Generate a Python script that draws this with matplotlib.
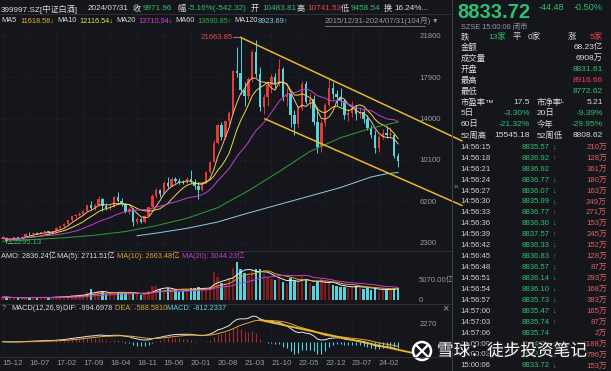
import matplotlib
matplotlib.use("Agg")
import matplotlib.pyplot as plt
import matplotlib.patheffects as pe
from matplotlib.lines import Line2D
from matplotlib.patches import Ellipse
import numpy as np
import pandas as pd

plt.rcParams['font.family'] = ['Liberation Sans', 'Noto Sans CJK SC', 'DejaVu Sans']

# ---- monthly bars, 2015-12 .. 2024-07 (104 months) ----
opens = [2650, 2780, 2500, 2560, 2800, 2720, 2880, 3150, 3080, 3200,
         3120, 3300, 3380, 3230, 3400, 3700, 3850, 4100, 4400, 4800,
         4900, 5050, 5300, 5850, 5600, 5900, 6450, 5750, 5600, 5700,
         6600, 6250, 5950, 5200, 5500, 4250, 4500, 4250, 4850, 5650,
         6700, 7250, 6900, 7950, 7650, 8300, 8150, 8000, 7950, 8300,
         8000, 7600, 7250, 7950, 8950, 9950, 11750, 13400, 12250, 13800,
         14550, 18450, 18350, 16700, 16100, 17700, 20300, 18200, 15100, 16000,
         17200, 17900, 17300, 18700, 16000, 16300, 14300, 13500, 15000, 17300,
         15600, 15900, 13700, 11300, 13600, 15300, 16900, 16300, 16000, 15700,
         14300, 14500, 15000, 14400, 14653.4, 14000, 13100, 12500, 11200, 12272.46,
         12620, 12486.7, 12500, 10483.81]
highs = [2900, 2800, 2620, 2850, 2870, 2900, 3250, 3300, 3250, 3260,
         3350, 3420, 3420, 3420, 3750, 3900, 4150, 4450, 4850, 5000,
         5150, 5400, 5900, 6250, 5950, 6700, 6550, 6000, 5900, 6700,
         7050, 6500, 6050, 5700, 5550, 4700, 4600, 4950, 5700, 6900,
         7500, 7400, 8100, 8450, 8450, 8500, 8400, 8250, 8450, 9150,
         8350, 8000, 8050, 9050, 10050, 12000, 13500, 13700, 13900, 14700,
         18600, 20800, 21663.85, 17500, 17900, 20500, 21450, 18900, 16300, 17600,
         18200, 18300, 19600, 18900, 16900, 16500, 14800, 15200, 17600, 17600,
         16400, 16200, 15100, 13900, 15500, 17800, 17500, 16700, 16900, 15900,
         14900, 15700, 15300, 15100, 14900, 14300, 13400, 12900, 12500, 13000,
         13300, 13200, 12600, 10741.53]
lows = [2600, 2295.13, 2350, 2520, 2650, 2620, 2850, 3000, 3050, 3080,
        3100, 3200, 3150, 3200, 3380, 3620, 3800, 4050, 4350, 4600,
        4800, 4950, 5250, 5350, 5350, 5800, 5300, 5350, 5350, 5650,
        6150, 5750, 5100, 5050, 3850, 4100, 4150, 4150, 4800, 5600,
        6500, 6650, 6850, 7500, 7550, 7900, 7850, 7800, 7900, 7900,
        7350, 6400, 7200, 7900, 8850, 9900, 11600, 12000, 12100, 13400,
        14400, 17900, 16300, 15200, 15900, 17500, 17900, 14700, 14400, 15200,
        16400, 16900, 17100, 15700, 15200, 13200, 12500, 13200, 14800, 15400,
        15000, 13400, 10800, 10900, 13300, 15100, 15900, 15300, 15200, 14000,
        13800, 14200, 13900, 14100, 13600, 12900, 12200, 10800, 10900, 12100,
        12200, 12300, 10300, 9458.54]
closes = [2780, 2500, 2560, 2800, 2720, 2880, 3150, 3080, 3200, 3120,
          3300, 3380, 3230, 3400, 3700, 3850, 4100, 4400, 4800, 4900,
          5050, 5300, 5850, 5600, 5900, 6450, 5750, 5600, 5700, 6600,
          6250, 5950, 5200, 5500, 4250, 4500, 4250, 4850, 5650, 6700,
          7250, 6900, 7950, 7650, 8300, 8150, 8000, 7950, 8300, 8000,
          7600, 7250, 7950, 8950, 9950, 11750, 13400, 12250, 13800, 14550,
          18450, 18350, 16700, 16100, 17700, 20300, 18200, 15100, 16000, 17200,
          17900, 17300, 18700, 16000, 16300, 14300, 13500, 15000, 17300, 15600,
          15900, 13700, 11300, 13600, 15300, 16900, 16300, 16000, 15700, 14300,
          14500, 15000, 14400, 14653.4, 14000, 13100, 12500, 11200, 12272.46, 12620,
          12486.7, 12500, 10514.28, 9971.96]
# turnover (亿)
amo = [650, 720, 480, 560, 500, 520, 700, 650, 600, 520,
       600, 700, 650, 620, 800, 780, 850, 950, 1200, 1100,
       1250, 1300, 1900, 2700, 1600, 2200, 1900, 1500, 1400, 1900,
       2000, 1600, 1700, 1500, 2000, 1400, 1100, 1500, 2200, 3300,
       3500, 2700, 2500, 2800, 2600, 2300, 2200, 2200, 2400, 3000,
       2900, 3100, 2500, 2700, 3200, 6800, 5600, 4200, 4000, 5000,
       7800, 9300, 7500, 6600, 5800, 7200, 7400, 7500, 6200, 5500,
       5000, 4800, 5600, 4300, 3800, 5400, 4600, 4400, 5700, 4900,
       4200, 3400, 4700, 5200, 3800, 4200, 3700, 3300, 3100, 3200,
       3000, 3400, 3300, 3249.8, 2700, 2900, 2500, 2977.2, 2000, 2600,
       2500, 2750, 2871.36, 2836.24]

# long averages (need history before the window)
ma60_month = [0, 8, 16, 24, 32, 40, 48, 56, 64, 72, 80, 88, 96, 103]
ma60_value = [2420, 2600, 2760, 3000, 3350, 3900, 4600, 5600, 7200, 9000,
              10900, 12200, 13100, 13690.85]
ma120_month = [35, 40, 48, 56, 64, 72, 80, 88, 96, 100, 103]
ma120_value = [2950, 3200, 3650, 4250, 5100, 5900, 6700, 7500, 8500, 8800, 8923.69]

# hand-drawn channel lines
trend_upper_month = [62, 119.6]
trend_upper_price = [21663.85, 11909]
trend_lower_month = [68.3, 119.6]
trend_lower_price = [13981, 5814]
macd_trend_month = [67, 106.9]
macd_trend_value = [2650, -1380]

xtick_labels = ['15-12', '16-07', '17-02', '17-09', '18-04', '18-11', '19-06', '20-01',
                '20-08', '21-03', '21-10', '22-05', '22-12', '23-07', '24-02']
price_ticks = [2300, 6200, 10100, 14000, 17900, 21800]

tick_time = ['14:56:15', '14:56:18', '14:56:21', '14:56:24', '14:56:27', '14:56:30',
             '14:56:33', '14:56:36', '14:56:39', '14:56:42', '14:56:45', '14:56:48',
             '14:56:51', '14:56:54', '14:56:57', '14:57:00', '14:57:03', '14:57:06',
             '15:00:00', '15:00:03', '15:00:06']
tick_price = ['8835.57', '8836.92', '8836.92', '8836.77', '8836.07', '8835.99',
              '8836.77', '8836.30', '8837.57', '8836.33', '8836.83', '8836.57',
              '8836.14', '8836.10', '8835.73', '8835.47', '8835.74', '8835.74',
              '8834.20', '8833.95', '8833.72']
tick_dir = ['↓', '↑', '', '↓', '↓', '↓', '↑', '↓', '↑', '↓', '↑', '↓',
            '↓', '↓', '↓', '↓', '↑', '', '↓', '↓', '↓']
tick_vol = ['210万', '128万', '361万', '180万', '163万', '249万', '271万', '153万',
            '245万', '152万', '128万', '87万', '293万', '168万', '393万', '165万',
            '87万', '2万', '1188万', '796万', '153万']

# ---- colours ----
BG = '#14161b'
WHITE = '#dcdcdc'
GRAY = '#9a9a9a'
GREEN = '#2fbf6f'
RED = '#e8454a'
CANDLE_UP = '#e53935'
CANDLE_DN = '#56d4dc'
VOL_UP = '#7a1e1e'
GRID = '#2a2e35'
SEP = '#33363d'

W, H = 611, 371
fig = plt.figure(figsize=(W / 100, H / 100), dpi=100, facecolor=BG)


def px_axes(x0, y0, x1, y1):
    ax = fig.add_axes([x0 / W, 1 - y1 / H, (x1 - x0) / W, (y1 - y0) / H])
    ax.set_facecolor(BG)
    for s in ax.spines.values():
        s.set_visible(False)
    return ax


def ftext(x, y, s, color=WHITE, size=6.0, ha='left', va='center', **kw):
    return fig.text(x / W, 1 - y / H, s, color=color, fontsize=size, ha=ha, va=va, **kw)


def hline(y, x0, x1, color=SEP, lw=0.6):
    fig.add_artist(Line2D([x0 / W, x1 / W], [1 - y / H, 1 - y / H], color=color, lw=lw))


def vline(x, y0, y1, color=SEP, lw=0.6):
    fig.add_artist(Line2D([x / W, x / W], [1 - y0 / H, 1 - y1 / H], color=color, lw=lw))


o = np.array(opens, float)
h = np.array(highs, float)
l = np.array(lows, float)
c = np.array(closes, float)
v = np.array(amo, float)
n = len(c)
x = np.arange(n)
up = c >= o
XLIM = (-0.68, 107.4)
xpos = np.arange(0, n, 7)

# ---- price panel ----
ax = px_axes(0, 28, 415, 248)
ax.set_xlim(*XLIM)
ax.set_ylim(1796, 22554)
for p in price_ticks:
    ax.axhline(p, color=GRID, lw=0.5, ls=(0, (1, 2)), zorder=0)
for xp in xpos:
    ax.axvline(xp, color=GRID, lw=0.5, ls=(0, (1, 2)), zorder=0)

ccol = np.where(up, CANDLE_UP, CANDLE_DN)
ax.vlines(x, l, h, colors=ccol, lw=0.7, zorder=3)
body = np.maximum(np.abs(c - o), 60)
ax.bar(x, body, bottom=np.minimum(o, c), width=0.62, color=ccol, lw=0, zorder=4)

cs = pd.Series(c)
ax.plot(x, cs.rolling(5, min_periods=1).mean(), color='#f0c080', lw=0.7, zorder=5)
ax.plot(x, cs.rolling(10, min_periods=1).mean(), color='#e8d84a', lw=0.7, zorder=5)
ax.plot(x, cs.rolling(20, min_periods=1).mean(), color='#c43fd0', lw=0.7, zorder=5)
ax.plot(ma60_month, ma60_value, color='#2f9e3a', lw=0.7, zorder=5)
ax.plot(ma120_month, ma120_value, color='#8fd0e0', lw=0.7, zorder=5)

ax.plot(trend_upper_month, trend_upper_price, color='#e9b82a', lw=1.1, clip_on=False, zorder=6)
ax.plot(trend_lower_month, trend_lower_price, color='#e9b82a', lw=1.1, clip_on=False, zorder=6)

imax = int(np.argmax(h))
ax.plot([imax - 1.9, imax], [h[imax], h[imax]], color=GRAY, lw=0.6)
ax.plot([imax, imax], [h[imax], h[imax] - 250], color=GRAY, lw=0.6)
ax.text(imax - 2.0, h[imax], f'{h[imax]:.2f}', color=RED, fontsize=5.6, ha='right', va='center')
imin = int(np.argmin(l))
ax.plot([imin + 0.3, imin + 1.7], [l[imin], l[imin]], color=GRAY, lw=0.6)
ax.text(imin + 1.8, l[imin], f'{l[imin]:.2f}', color=GREEN, fontsize=5.6, ha='left', va='center')

ax.yaxis.tick_right()
ax.set_yticks(price_ticks)
ax.set_yticklabels([str(p) for p in price_ticks])
ax.tick_params(axis='y', length=0, pad=3, labelsize=5.6, labelcolor=GRAY)
ax.set_xticks(xpos)
ax.set_xticklabels([])
ax.tick_params(axis='x', length=0)

# ---- turnover panel ----
axv = px_axes(0, 260, 415, 301)
axv.set_xlim(*XLIM)
axv.set_ylim(-250, 9700)
for xp in xpos:
    axv.axvline(xp, color=GRID, lw=0.5, ls=(0, (1, 2)), zorder=0)
axv.bar(x, v, width=0.62, color=np.where(up, VOL_UP, CANDLE_DN), lw=0, zorder=3)
vs = pd.Series(v)
axv.plot(x, vs.rolling(5, min_periods=1).mean(), color='#eeeeee', lw=0.7, zorder=4)
axv.plot(x, vs.rolling(10, min_periods=1).mean(), color='#e8a030', lw=0.7, zorder=4)
axv.plot(x, vs.rolling(20, min_periods=1).mean(), color='#c43fd0', lw=0.7, zorder=4)
axv.yaxis.tick_right()
axv.set_yticks([0, 5070])
axv.set_yticklabels(['0', '5070.00亿'])
axv.tick_params(axis='y', length=0, pad=3, labelsize=5.6, labelcolor=GRAY)
axv.set_xticks(xpos)
axv.set_xticklabels([])
axv.tick_params(axis='x', length=0)

# ---- MACD panel ----
ema12 = cs.ewm(span=12, adjust=False).mean()
ema26 = cs.ewm(span=26, adjust=False).mean()
dif = ema12 - ema26
dea = dif.ewm(span=9, adjust=False).mean()
hist = 2 * (dif - dea)

axm = px_axes(0, 314, 415, 357)
axm.set_xlim(*XLIM)
axm.set_ylim(-1870, 3380)
for xp in xpos:
    axm.axvline(xp, color=GRID, lw=0.5, ls=(0, (1, 2)), zorder=0)
axm.vlines(x, 0, hist, colors=np.where(hist >= 0, '#a82a2a', CANDLE_DN), lw=0.8, zorder=3)
axm.plot(x, dif, color='#e6e6e6', lw=0.7, zorder=4)
axm.plot(x, dea, color='#e0a838', lw=0.7, zorder=4)
axm.plot(macd_trend_month, macd_trend_value, color='#e9b82a', lw=1.3, clip_on=False, zorder=5)
axm.yaxis.tick_right()
axm.set_yticks([2270])
axm.set_yticklabels(['2270'])
axm.tick_params(axis='y', length=0, pad=3, labelsize=5.6, labelcolor=GRAY)
axm.set_xticks(xpos)
axm.set_xticklabels(xtick_labels, ha='left')
axm.tick_params(axis='x', length=0, pad=2, labelsize=5.8, labelcolor=GRAY)

# ---- separators ----
hline(14, 0, 452)
hline(251, 0, 452)
hline(304, 0, 452)
hline(357, 0, 452)
vline(452, 0, 371, color='#3a3d44', lw=0.8)

# ---- header rows ----
f1 = 5.9
ftext(1, 9, '399997.SZ[中证白酒]', WHITE, f1)
ftext(88, 9, '2024/07/31', WHITE, f1)
ftext(133, 9, '收', WHITE, f1)
ftext(143, 9, '9971.96', GREEN, f1)
ftext(177, 9, '幅', WHITE, f1)
ftext(188, 9, '-5.16%(-542.32)', GREEN, f1)
ftext(251, 9, '开', WHITE, f1)
ftext(262, 9, '10483.81', GREEN, f1)
ftext(297, 9, '高', WHITE, f1)
ftext(307, 9, '10741.53', RED, f1)
ftext(341, 9, '低', WHITE, f1)
ftext(351, 9, '9458.54', GREEN, f1)
ftext(384, 9, '换', WHITE, f1)
ftext(394, 9, '16.24%...', WHITE, f1)

f2 = 5.3
ftext(1, 21, 'MA5', WHITE, f2)
ftext(20, 21, '11618.58↓', '#e8a838', f2)
ftext(57, 21, 'MA10', WHITE, f2)
ftext(79, 21, '12116.54↓', '#e8e04a', f2)
ftext(116, 21, 'MA20', WHITE, f2)
ftext(138, 21, '13710.94↓', '#d040d8', f2)
ftext(175, 21, 'MA60', WHITE, f2)
ftext(197, 21, '13690.85↑', '#30b040', f2)
ftext(234, 21, 'MA120', WHITE, f2)
ftext(258, 21, '8923.69↑', '#80d0e8', f2)
ftext(325, 21, '2015/12/31-2024/07/31(104月)', GRAY, 5.6)
hline(25.5, 325, 425, color=GRAY, lw=0.5)
ftext(432, 21, '▼', GRAY, 4.8)

# ---- indicator legends ----
f3 = 5.3
ftext(1, 256, 'AMO: 2836.24亿', WHITE, f3)
ftext(57, 256, 'MA(5): 2711.51亿', WHITE, f3)
ftext(117, 256, 'MA(10): 2663.48亿', '#e8a030', f3)
ftext(182, 256, 'MA(20): 3044.23亿', '#c43fd0', f3)
ftext(2, 309, '?', GRAY, f3)
ftext(11, 309, 'MACD(12,26,9)', WHITE, f3)
ftext(63, 309, 'DIF: -994.6978', WHITE, f3)
ftext(115, 309, 'DEA: -588.5810', '#e0a838', f3)
ftext(167, 309, 'MACD: -812.2337', CANDLE_DN, f3)
ftext(445, 308, '×', GRAY, 8, ha='center')
ftext(456, 188, '»', GRAY, 6, ha='center')

# ---- quote panel ----
fs = 6.0
ftext(457, 13, '8833.72', GREEN, 14.5, weight='bold')
ftext(539, 8, '-44.48', GREEN, 6.6)
ftext(603, 8, '-0.50%', GREEN, 6.6, ha='right')
ftext(461, 27, 'SZSE 15:00:06 闭市', GRAY, 5.3)
ftext(461, 37, '跌', WHITE, fs)
ftext(488, 37, '13家', GREEN, fs)
ftext(513, 37, '平', WHITE, fs)
ftext(541, 37, '0家', WHITE, fs, ha='right')
ftext(568, 37, '涨', WHITE, fs)
ftext(603, 37, '5家', RED, fs, ha='right')

quote_rows = [('金额', '68.23亿', WHITE), ('成交量', '6908万', WHITE),
              ('开盘', '8831.61', GREEN), ('最高', '8916.66', RED),
              ('最低', '8772.62', GREEN)]
for k, (lab, val, col) in enumerate(quote_rows):
    yy = 47.5 + 11 * k
    ftext(461, yy, lab, WHITE, fs)
    ftext(603, yy, val, col, fs, ha='right')

stat_rows = [('市盈率™', '17.5', WHITE, '市净率ᴸ', '5.21', WHITE),
             ('5日', '-3.30%', GREEN, '20日', '-9.39%', GREEN),
             ('60日', '-21.32%', GREEN, '今年', '-29.95%', GREEN),
             ('52周高', '15545.18', WHITE, '52周低', '8808.62', WHITE)]
for k, (l1, v1, c1, l2, v2, c2) in enumerate(stat_rows):
    yy = 102.5 + 11 * k
    ftext(461, yy, l1, WHITE, fs)
    ftext(530, yy, v1, c1, fs, ha='right')
    ftext(537, yy, l2, WHITE, fs)
    ftext(603, yy, v2, c2, fs, ha='right')

for k in range(len(tick_time)):
    yy = 147.3 + 10.93 * k
    ftext(460, yy, tick_time[k], '#cfcfcf', 5.6)
    ftext(550, yy, tick_price[k], GREEN, 5.6, ha='right')
    if tick_dir[k]:
        ftext(552, yy, tick_dir[k], GREEN if tick_dir[k] == '↓' else RED, 5.2, weight='bold')
    ftext(607, yy, tick_vol[k], '#e06060', 5.6, ha='right')

# ---- watermark ----
fig.add_artist(Ellipse((422 / W, 1 - 351 / H), 18 / W, 18 / H, transform=fig.transFigure,
                       fill=False, edgecolor='white', lw=1.8))
fig.add_artist(Line2D([417 / W, 427 / W], [1 - 346 / H, 1 - 356 / H], color='white', lw=1.6))
fig.add_artist(Line2D([417 / W, 427 / W], [1 - 356 / H, 1 - 346 / H], color='white', lw=1.6))
ftext(437, 351, '雪球：徒步投资笔记', 'white', 12,
      path_effects=[pe.withStroke(linewidth=2, foreground='#202020')])

fig.savefig('out.png', dpi=100, facecolor=BG)
